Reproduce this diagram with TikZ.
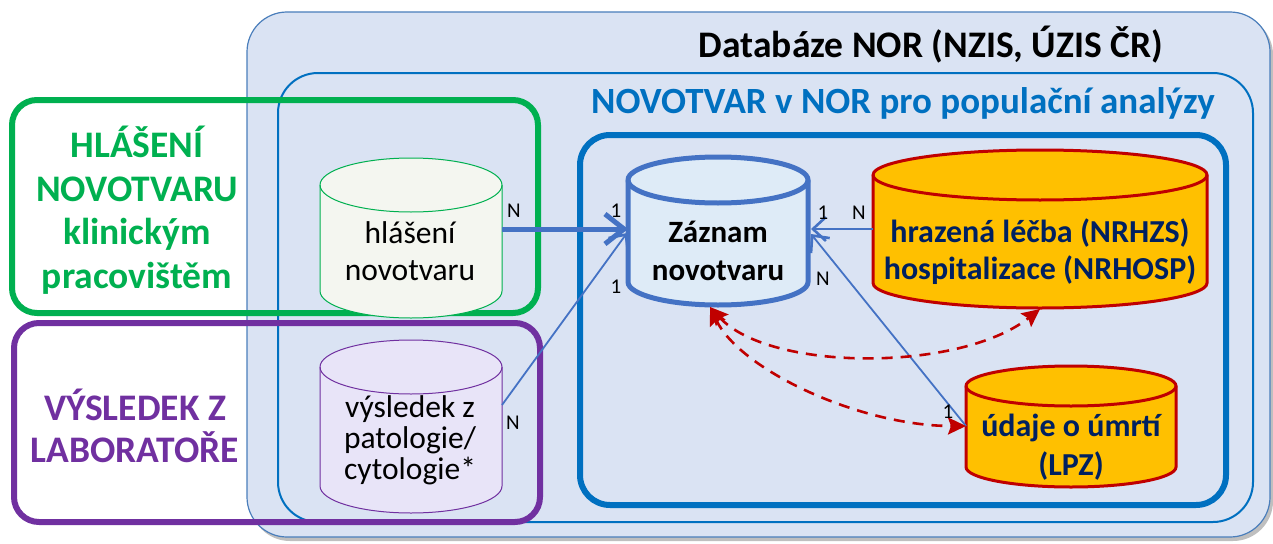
\documentclass[tikz,border=0pt]{standalone}
\usepackage{fontspec}
\setmainfont{Carlito}
\usetikzlibrary{arrows.meta}
\definecolor{outerfill}{HTML}{DAE3F3}
\definecolor{outerline}{HTML}{4A7EBB}
\definecolor{midblue}{HTML}{0070C0}
\definecolor{gr}{HTML}{00B050}
\definecolor{pu}{HTML}{7030A0}
\definecolor{conn}{HTML}{4472C4}
\definecolor{zazfill}{HTML}{DEEBF7}
\definecolor{hlfill}{HTML}{F4F6F0}
\definecolor{vyfill}{HTML}{E8E4F8}
\definecolor{gold}{HTML}{FFC000}
\definecolor{dred}{HTML}{C00000}
\definecolor{navy}{HTML}{002060}
\newcommand\mycyl[6]{%
 \path[#6] (#1,{-(#3+#5)}) -- (#1,{-(#4-#5)}) arc[start angle=180,end angle=360,x radius={(#2-#1)/2},y radius=#5] -- (#2,{-(#3+#5)}) arc[start angle=0,end angle=180,x radius={(#2-#1)/2},y radius=#5] -- cycle;
 \draw[#6,fill=none] (#1,{-(#3+#5)}) arc[start angle=180,end angle=360,x radius={(#2-#1)/2},y radius=#5];}
\tikzset{
 lbl/.style={font=\fontsize{21}{21}\selectfont,inner sep=0pt},
 thinconn/.style={draw=conn,line width=1.8pt,-{Straight Barb[length=13pt,width=24pt,line width=2.6pt]}},
 redarr/.style={draw=dred,line width=2.6pt,dash pattern=on 11pt off 8pt,{Stealth[length=18pt,width=17pt,inset=3pt]}-{Stealth[length=18pt,width=17pt,inset=3pt]}},
}
\begin{document}
\begin{tikzpicture}[x=1pt,y=1pt]
\useasboundingbox (0,0) rectangle (1273,-543);
% outer database box
\fill[black!25,rounded corners=40] (250,-15) rectangle (1273,-541);
\draw[outerline,fill=outerfill,line width=1.2pt,rounded corners=40] (247,-12) rectangle (1270,-537);
\node[font=\bfseries\fontsize{37.5}{44}\selectfont] (t1) at (931,-45) {Databáze NOR (NZIS, ÚZIS ČR)};
% middle box
\draw[midblue,line width=2pt,rounded corners=40] (278,-73) rectangle (1253,-522);
\node[font=\bfseries\fontsize{37}{44}\selectfont,text=midblue] (t2) at (903,-103) {NOVOTVAR v NOR pro populační analýzy};
% inner box
\draw[midblue,line width=6pt,rounded corners=30] (580,-135) rectangle (1226,-505);
% green and purple boxes
\draw[gr,line width=6pt,rounded corners=25] (12,-100) rectangle (538,-313);
\draw[pu,line width=6pt,rounded corners=25] (14,-323) rectangle (540,-522);
\node[font=\bfseries\fontsize{37.5}{43.5}\selectfont,text=gr,align=center] (hlt) at (137,-210) {HLÁŠENÍ\\NOVOTVARU\\klinickým\\pracovištěm};
\node[font=\bfseries\fontsize{37.5}{42}\selectfont,text=pu,align=center] (vyt) at (135,-426) {VÝSLEDEK Z\\LABORATOŘE};
% cylinders
\mycyl{320}{502}{158}{318}{27}{draw=gr,fill=hlfill,line width=1pt}
\node[font=\fontsize{31.5}{37}\selectfont,align=center] (hl) at (410,-251) {hlášení\\novotvaru};
\mycyl{320}{502}{340}{513}{27}{draw=pu,fill=vyfill,line width=1pt}
\node[font=\fontsize{31.5}{31}\selectfont,align=center] (vy) at (410,-440) {výsledek z\\patologie/\\cytologie*};
\mycyl{628}{808}{157}{305}{23}{draw=conn,fill=zazfill,line width=5pt}
\node[font=\bfseries\fontsize{31}{38}\selectfont,align=center] (za) at (718,-251) {Záznam\\novotvaru};
\mycyl{873}{1207}{150}{308}{25}{draw=dred,fill=gold,line width=3pt}
\node[font=\bfseries\fontsize{32}{37}\selectfont,align=center,text=navy] (hr) at (1040,-252) {hrazená léčba (NRHZS)\\hospitalizace (NRHOSP)};
\mycyl{966}{1176}{366}{487}{20}{draw=dred,fill=gold,line width=3pt}
\node[font=\bfseries\fontsize{32}{39}\selectfont,align=center,text=navy] (um) at (1071,-447) {údaje o úmrtí\\(LPZ)};
% connector end points
\coordinate (hlR) at (502,-229);
\coordinate (vyR) at (502,-405);
\coordinate (zaL) at (628,-229);
\coordinate (zaL2) at (627,-233);
\coordinate (zaR) at (811,-229);
\coordinate (zaR2) at (811,-234);
\coordinate (hrL) at (873,-229);
\coordinate (umL) at (966,-426);
\coordinate (zaB) at (710,-307);
\coordinate (hrB) at (1040,-309);
% connectors
\draw[thinconn] (vyR) -- (zaL2);
\draw[thinconn] (umL) -- (zaR2);
\draw[conn,line width=5pt,-{Straight Barb[length=19pt,width=30pt]}] (hlR) -- (zaL);
\draw[thinconn] (hrL) -- (zaR);
\draw[redarr] (zaB) .. controls (770,-372) and (960,-372) .. (hrB);
\draw[redarr] (zaB) .. controls (740,-370) and (860,-426) .. (umL);
% cardinality labels
\node[lbl] (n1) at (514,-211) {N};
\node[lbl] (o1) at (616,-211) {1};
\node[lbl] (o2) at (616,-287) {1};
\node[lbl] (n2) at (513,-423) {N};
\node[lbl] (o3) at (823,-213) {1};
\node[lbl] (n3) at (859,-213) {N};
\node[lbl] (n4) at (823,-279) {N};
\node[lbl] (o4) at (948,-412) {1};
\end{tikzpicture}
\end{document}
